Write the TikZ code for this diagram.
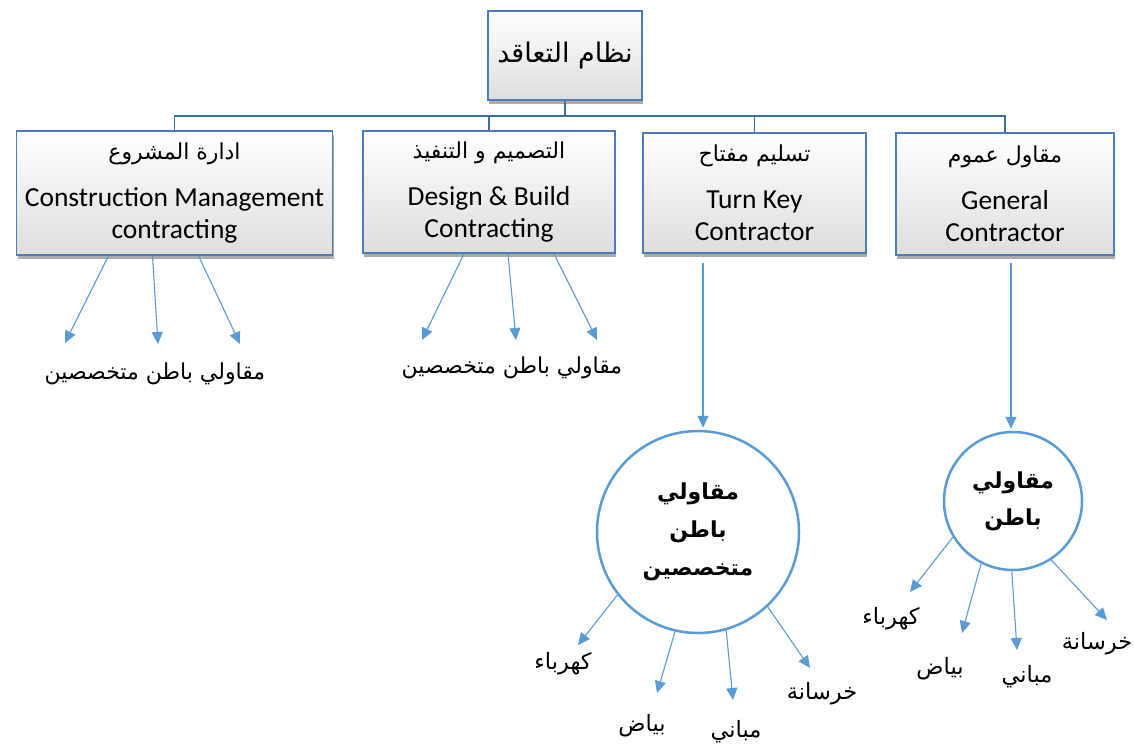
\documentclass[tikz,border=0pt]{standalone}
\usepackage{fontspec}
\setmainfont{Carlito}
\newfontfamily\arabicfont[Script=Arabic]{DejaVu Sans}
\TeXXeTstate=1
\usetikzlibrary{arrows.meta,shadows,calc}

\definecolor{boxedge}{RGB}{74,126,187}
\definecolor{busline}{RGB}{61,108,158}
\definecolor{arrowblue}{RGB}{91,155,213}

% right-to-left Arabic run at a given size
\newcommand\artext[2][22]{{\arabicfont\fontsize{#1}{#1}\selectfont\beginR #2\endR}}

\tikzset{
  contract/.style={draw=boxedge, line width=1.6pt, top color=white, bottom color=black!13,
    drop shadow={shadow xshift=1pt, shadow yshift=-4pt, fill=black!60, opacity=.55},
    align=center, inner sep=0pt, font=\fontsize{27.5}{32}\selectfont},
  busconn/.style={draw=busline, line width=1.8pt},
  arr/.style={draw=arrowblue, line width=1.1pt, -{Triangle[width=11pt,length=12pt]}},
  subring/.style={circle, draw=arrowblue, line width=2.5pt, fill=white, inner sep=0pt,
    align=center, font=\arabicfont\bfseries\fontsize{22}{38}\selectfont},
  trade/.style={font=\arabicfont\fontsize{22.5}{23}\selectfont, inner sep=1pt},
  grouplabel/.style={font=\arabicfont\fontsize{22}{22}\selectfont, inner sep=1pt}
}

\begin{document}
\begin{tikzpicture}[x=1pt,y=-1pt]
  \useasboundingbox (0,0) rectangle (1134,750);
  \fill[white] (0,0) rectangle (1134,750);

  % contracting system and its four types
  \node[contract, minimum width=154pt, minimum height=89pt] (root) at (565,55.5)
    {\artext[27]{نظام التعاقد}};
  \node[contract, minimum width=316pt, minimum height=124pt] (cm) at (174.5,193)
    {\artext{ادارة المشروع}\\[15pt] Construction Management\\ contracting};
  \node[contract, minimum width=252pt, minimum height=122pt] (db) at (489,192)
    {\artext{التصميم و التنفيذ}\\[15pt] Design \& Build\\ Contracting};
  \node[contract, minimum width=223pt, minimum height=120pt] (tk) at (754.5,193)
    {\artext{تسليم مفتاح}\\[15pt] Turn Key\\ Contractor};
  \node[contract, minimum width=218pt, minimum height=122pt] (gc) at (1005,194)
    {\artext{مقاول عموم}\\[15pt] General\\ Contractor};

  % hierarchy connectors
  \coordinate (bus) at (565,116);
  \draw[busconn] (root.south) -- (bus) -| (cm.north);
  \draw[busconn] (bus) -| (db.north);
  \draw[busconn] (bus) -| (tk.north);
  \draw[busconn] (bus) -| (gc.north);

  % specialised subcontractors under CM
  \coordinate (cm-t1) at (65,343);
  \coordinate (cm-t2) at (158,344);
  \coordinate (cm-t3) at (240,344);
  \draw[arr] ([xshift=-66pt]cm.south) -- (cm-t1);
  \draw[arr] ([xshift=-22pt]cm.south) -- (cm-t2);
  \draw[arr] ([xshift=24pt]cm.south) -- (cm-t3);
  \node[grouplabel] (cm-sub) at (155,374) {\beginR مقاولي باطن متخصصين\endR};

  % specialised subcontractors under D&B
  \coordinate (db-t1) at (422,340);
  \coordinate (db-t2) at (516,340);
  \coordinate (db-t3) at (597,340);
  \draw[arr] ([xshift=-25pt]db.south) -- (db-t1);
  \draw[arr] ([xshift=19pt]db.south) -- (db-t2);
  \draw[arr] ([xshift=65pt]db.south) -- (db-t3);
  \node[grouplabel] (db-sub) at (512,368) {\beginR مقاولي باطن متخصصين\endR};

  % turn key: specialised subcontractors and their trades
  \node[subring, minimum size=202pt] (tk-ring) at (698,532)
    {\beginR مقاولي\endR\\ \beginR باطن\endR\\ \beginR متخصصين\endR};
  \draw[arr] ([xshift=-51.5pt,yshift=-9pt]tk.south) -- ([xshift=5pt,yshift=2pt]tk-ring.north);

  \node[trade] (tk-el) at (563,664) {\beginR كهرباء\endR};
  \node[trade] (tk-pl) at (642,726) {\beginR بياض\endR};
  \node[trade] (tk-bu) at (736,732) {\beginR مباني\endR};
  \node[trade] (tk-co) at (822,694) {\beginR خرسانة\endR};
  \coordinate (tk-t1) at (578,645);
  \coordinate (tk-t2) at (657,693);
  \coordinate (tk-t3) at (733,700);
  \coordinate (tk-t4) at (810,668);
  \draw[arr] (tk-ring.218) -- (tk-t1);
  \draw[arr] (tk-ring.257) -- (tk-t2);
  \draw[arr] (tk-ring.286) -- (tk-t3);
  \draw[arr] (tk-ring.313) -- (tk-t4);

  % general contractor: subcontractors and their trades
  \node[subring, minimum size=138pt, font=\arabicfont\bfseries\fontsize{22}{37}\selectfont] (gc-ring) at (1013,501)
    {\beginR مقاولي\endR\\ \beginR باطن\endR};
  \draw[arr] ([xshift=6pt,yshift=-7pt]gc.south) -- ([xshift=-2pt,yshift=2pt]gc-ring.north);

  \node[trade] (gc-el) at (891,619) {\beginR كهرباء\endR};
  \node[trade] (gc-pl) at (940,669) {\beginR بياض\endR};
  \node[trade] (gc-bu) at (1027,677) {\beginR مباني\endR};
  \node[trade] (gc-co) at (1097,644) {\beginR خرسانة\endR};
  \coordinate (gc-t1) at (910,592);
  \coordinate (gc-t2) at (962,633);
  \coordinate (gc-t3) at (1017,650);
  \coordinate (gc-t4) at (1107,620);
  \draw[arr] (gc-ring.211) -- (gc-t1);
  \draw[arr] (gc-ring.243) -- (gc-t2);
  \draw[arr] (gc-ring.269) -- (gc-t3);
  \draw[arr] (gc-ring.303) -- (gc-t4);
\end{tikzpicture}
\end{document}
